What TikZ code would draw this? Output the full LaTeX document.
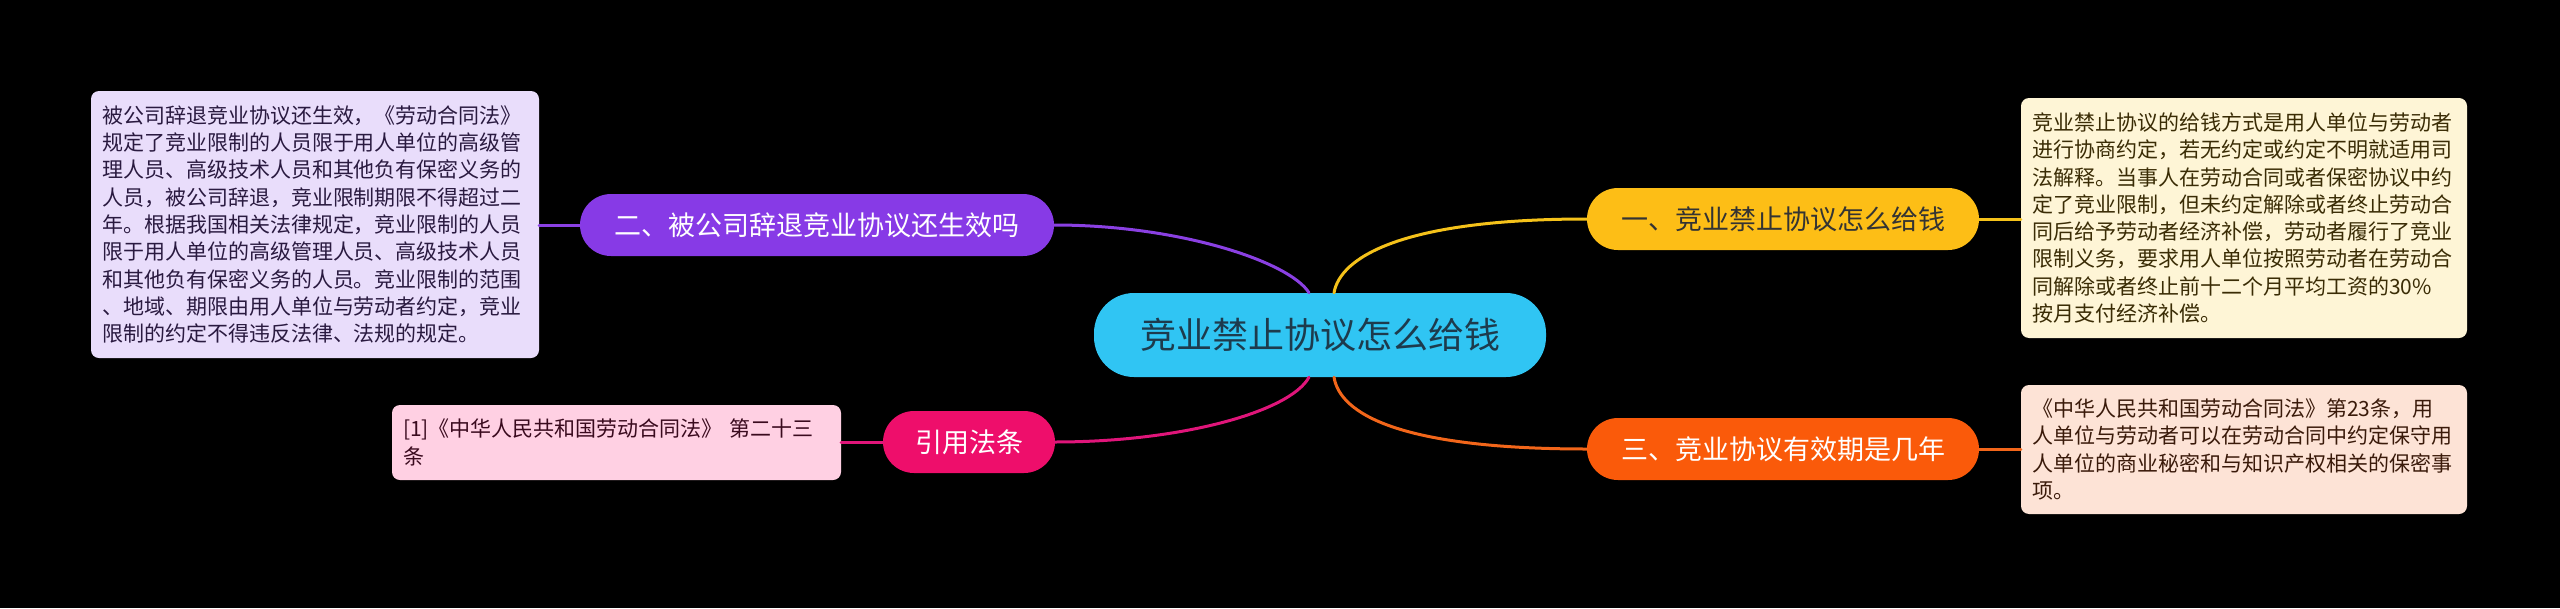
\documentclass[tikz,border=0pt]{standalone}
\usepackage{fontspec}
\setmainfont{Noto Sans CJK SC}
\usetikzlibrary{calc}
\definecolor{cCenter}{HTML}{30C5F3}
\definecolor{cCenterTxt}{HTML}{1D3B4D}
\definecolor{cYel}{HTML}{FDBE16}
\definecolor{cYelLine}{HTML}{F5C21A}
\definecolor{cOra}{HTML}{FA5A0A}
\definecolor{cOraLine}{HTML}{F2661A}
\definecolor{cPur}{HTML}{873AE6}
\definecolor{cPurLine}{HTML}{8A40E2}
\definecolor{cMag}{HTML}{EE0E6B}
\definecolor{cMagLine}{HTML}{E0157A}
\definecolor{lPur}{HTML}{E9DDFB}
\definecolor{lPurTxt}{HTML}{2A1A40}
\definecolor{lYel}{HTML}{FEF5D6}
\definecolor{lYelTxt}{HTML}{3A2C05}
\definecolor{lOra}{HTML}{FDE3D6}
\definecolor{lOraTxt}{HTML}{3A1A0A}
\definecolor{lPink}{HTML}{FFD0E3}
\definecolor{lPinkTxt}{HTML}{3A0A1E}
\definecolor{dkTxt}{HTML}{333333}
\begin{document}
\begin{tikzpicture}[x=1pt,y=-1pt,
  leafbox/.style={rounded corners=8pt, align=left, inner xsep=11pt, inner ysep=0pt,
    font=\fontsize{21}{27.3}\selectfont},
  pill/.style={rounded corners=31pt, minimum height=62pt, inner sep=0pt,
    font=\fontsize{27}{30}\selectfont},
  conn/.style={line width=3pt, line cap=round}]
\fill[black] (0,0) rectangle (2560,608);
\useasboundingbox (0,0) rectangle (2560,608);

% center
\node[fill=cCenter, text=cCenterTxt, rounded corners=40pt, minimum width=452pt, minimum height=84pt,
  inner sep=0pt, font=\fontsize{36}{40}\selectfont] (c) at (1320,335) {竞业禁止协议怎么给钱};

% branches
\node[pill, fill=cYel, text=dkTxt, minimum width=392pt] (b1) at (1783,219) {一、竞业禁止协议怎么给钱};
\node[pill, fill=cOra, text=white, minimum width=392pt] (b3) at (1783,449) {三、竞业协议有效期是几年};
\node[pill, fill=cPur, text=white, minimum width=474pt] (b2) at (817,225) {二、被公司辞退竞业协议还生效吗};
\node[pill, fill=cMag, text=white, minimum width=172pt] (b4) at (969,442) {引用法条};

% leaves
\node[leafbox, fill=lPur, text=lPurTxt, text width=426pt, minimum height=267pt] (l2) at (315,224.5)
{被公司辞退竞业协议还生效，《劳动合同法》\\
规定了竞业限制的人员限于用人单位的高级管\\
理人员、高级技术人员和其他负有保密义务的\\
人员，被公司辞退，竞业限制期限不得超过二\\
年。根据我国相关法律规定，竞业限制的人员\\
限于用人单位的高级管理人员、高级技术人员\\
和其他负有保密义务的人员。竞业限制的范围\\
、地域、期限由用人单位与劳动者约定，竞业\\
限制的约定不得违反法律、法规的规定。};

\node[leafbox, fill=lYel, text=lYelTxt, text width=424pt, minimum height=240pt] (l1) at (2244,218)
{竞业禁止协议的给钱方式是用人单位与劳动者\\
进行协商约定，若无约定或约定不明就适用司\\
法解释。当事人在劳动合同或者保密协议中约\\
定了竞业限制，但未约定解除或者终止劳动合\\
同后给予劳动者经济补偿，劳动者履行了竞业\\
限制义务，要求用人单位按照劳动者在劳动合\\
同解除或者终止前十二个月平均工资的30\%\\
按月支付经济补偿。};

\node[leafbox, fill=lOra, text=lOraTxt, text width=424pt, minimum height=129pt] (l3) at (2244,449.5)
{《中华人民共和国劳动合同法》第23条，用\\
人单位与劳动者可以在劳动合同中约定保守用\\
人单位的商业秘密和与知识产权相关的保密事\\
项。};

\node[leafbox, fill=lPink, text=lPinkTxt, text width=427pt, minimum height=75pt] (l4) at (616.5,442.5)
{[1]《中华人民共和国劳动合同法》 第二十三\\
条};

% connectors center -> branches
\draw[conn, cPurLine] ($(c.north)+(-11,0)$) .. controls (1290,262) and (1180,225) .. (b2.east);
\draw[conn, cYelLine] ($(c.north)+(14,0)$) .. controls (1340,258) and (1400,219) .. (b1.west);
\draw[conn, cMagLine] ($(c.south)+(-11,0)$) .. controls (1290,412) and (1180,442) .. (b4.east);
\draw[conn, cOraLine] ($(c.south)+(14,0)$) .. controls (1340,414) and (1400,449) .. (b3.west);

% connectors branches -> leaves
\draw[conn, cYelLine] (b1.east) -- (b1.east -| l1.west);
\draw[conn, cOraLine] (b3.east) -- (b3.east -| l3.west);
\draw[conn, cPurLine] (b2.west) -- (b2.west -| l2.east);
\draw[conn, cMagLine] (b4.west) -- (b4.west -| l4.east);
\end{tikzpicture}
\end{document}
